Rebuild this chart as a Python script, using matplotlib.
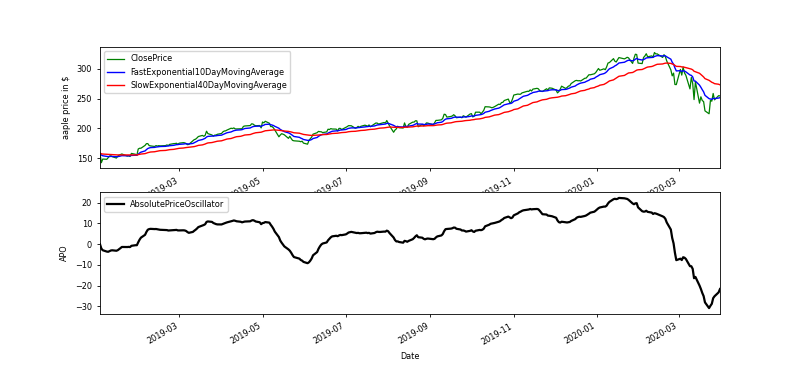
import numpy as np
import pandas as pd
import matplotlib
matplotlib.use('Agg')
import matplotlib.pyplot as plt

# AAPL daily close, 2019-01-02 .. 2020-03-31 (trading days)
holidays = ['2019-01-21', '2019-02-18', '2019-04-19', '2019-05-27', '2019-07-04',
            '2019-09-02', '2019-11-28', '2019-12-25', '2020-01-01', '2020-01-20',
            '2020-02-17']

close_2019_h1 = [
    157.92, 142.19, 148.26, 147.93, 150.75, 153.31, 153.80, 152.29, 150.00, 153.07,
    154.94, 155.86, 156.82, 153.30, 153.92, 152.70, 157.76, 156.30, 154.68, 165.25,
    166.44,
    166.52, 171.25, 174.18, 174.24, 170.94, 170.41, 169.43, 170.89, 170.18, 170.80,
    170.42, 170.93, 172.03, 171.06, 172.97, 174.23, 174.33, 174.87, 173.15,
    174.97, 175.85, 175.53, 174.52, 172.50, 172.91, 178.90, 180.91, 181.71, 183.73,
    186.12, 188.02, 186.53, 188.16, 195.09, 191.05, 188.74, 186.79, 188.47, 188.72,
    189.95,
    191.24, 194.02, 195.35, 195.69, 197.00, 200.10, 199.50, 200.62, 198.95, 198.87,
    199.23, 199.25, 203.13, 203.86, 204.53, 207.48, 207.16, 205.28, 204.30, 204.61,
    200.67,
    210.52, 209.15, 211.75, 208.48, 202.86, 202.90, 200.72, 197.18, 185.72, 188.66,
    190.92, 190.08, 189.00, 183.09, 186.60, 182.78, 179.66, 178.97, 178.23, 177.38,
    178.30, 175.07,
    173.30, 179.64, 182.54, 185.22, 190.15, 192.58, 194.81, 194.19, 194.15, 192.74,
    193.89, 198.45, 197.87, 199.46, 198.78, 198.58, 195.57, 199.80, 199.74, 197.92,
]
close_2019_h2 = [
    201.55, 202.73, 204.41, 204.23, 200.02, 201.24, 203.23, 201.75, 203.30, 205.21,
    204.50, 203.35, 205.66, 202.59, 207.22, 208.84, 208.67, 207.02, 207.74, 209.68,
    208.78, 213.04,
    208.43, 204.02, 193.34, 197.00, 199.04, 203.43, 200.99, 200.48, 208.97, 202.75,
    201.74, 206.50, 210.35, 210.36, 212.64, 212.46, 202.64, 206.49, 204.16, 205.53,
    209.01, 208.74,
    205.70, 209.19, 213.28, 213.26, 214.17, 216.70, 223.59, 223.09, 218.75, 219.90,
    220.70, 222.77, 220.96, 217.73, 218.72, 217.68, 221.03, 219.89, 218.82, 223.97,
    224.59, 218.96, 220.82, 227.01, 227.06, 224.40, 227.03, 230.09, 236.21, 235.87,
    235.32, 234.37, 235.28, 236.41, 240.51, 239.96, 243.18, 243.58, 246.58, 249.05,
    243.29, 243.26, 248.76,
    255.82, 257.50, 257.13, 257.24, 259.43, 260.14, 262.20, 261.96, 264.47, 262.64,
    265.76, 267.10, 266.29, 263.19, 262.01, 261.78, 266.37, 264.29, 267.84, 267.25,
    264.16, 259.45, 261.74, 265.58, 270.71, 266.92, 268.48, 270.77, 271.46, 275.15,
    279.86, 280.41, 279.74, 280.02, 279.44, 284.00, 284.27, 289.91, 289.80, 291.52,
    293.65,
]
close_2020 = [
    300.35, 297.43, 299.80, 298.39, 303.19, 309.63, 310.33, 316.96, 312.68, 311.34,
    315.24, 318.73, 316.57, 317.70, 319.23, 318.31, 308.95, 317.69, 324.34, 323.87,
    309.51,
    308.66, 318.85, 321.45, 325.21, 320.03, 321.55, 319.61, 327.20, 324.87, 324.95,
    319.00, 323.62, 320.30, 313.05, 298.18, 288.08, 292.65, 273.52, 273.36,
    298.81, 289.32, 302.74, 292.92, 289.03, 266.17, 285.34, 275.43, 248.23, 277.97,
    242.21, 252.86, 246.67, 244.78, 229.24, 224.37, 246.88, 245.52, 258.44, 247.74,
    254.81, 254.29,
]
close = close_2019_h1 + close_2019_h2 + close_2020
fast_period = 10
slow_period = 40

dates = pd.bdate_range('2019-01-02', '2020-03-31', freq='C', holidays=holidays)
price = pd.Series(close, index=dates)
ema_fast = price.ewm(span=fast_period, adjust=False).mean()
ema_slow = price.ewm(span=slow_period, adjust=False).mean()
apo = ema_fast - ema_slow

# the reference looks like a bigger figure shrunk down, so scale things a bit
plt.rcParams['font.size'] = 5.9
plt.rcParams['axes.linewidth'] = 0.6
plt.rcParams['xtick.major.size'] = 2.2
plt.rcParams['ytick.major.size'] = 2.2
plt.rcParams['xtick.major.width'] = 0.6
plt.rcParams['ytick.major.width'] = 0.6
plt.rcParams['legend.framealpha'] = 0.8

fig = plt.figure(figsize=(8, 3.92), dpi=100)
ax1 = fig.add_subplot(211, ylabel='aaple price in $')
ax1.plot(price.index, price.values, color='g', lw=0.9, label='ClosePrice')
ax1.plot(ema_fast.index, ema_fast.values, color='b', lw=1.0, label='FastExponential10DayMovingAverage')
ax1.plot(ema_slow.index, ema_slow.values, color='r', lw=1.0, label='SlowExponential40DayMovingAverage')
ax1.set_xlim(dates[0], dates[-1])
ax1.legend(loc='upper left')

ax2 = fig.add_subplot(212, ylabel='APO')
ax2.plot(apo.index, apo.values, color='black', lw=1.6, label='AbsolutePriceOscillator')
ax2.set_xlim(dates[0], dates[-1])
ax2.set_xlabel('Date')
ax2.legend(loc='upper left')

for ax in (ax1, ax2):
    for lbl in ax.get_xticklabels():
        lbl.set_rotation(30)
        lbl.set_ha('right')
fig.subplots_adjust(bottom=0.2)

plt.savefig('out.png', dpi=100)
